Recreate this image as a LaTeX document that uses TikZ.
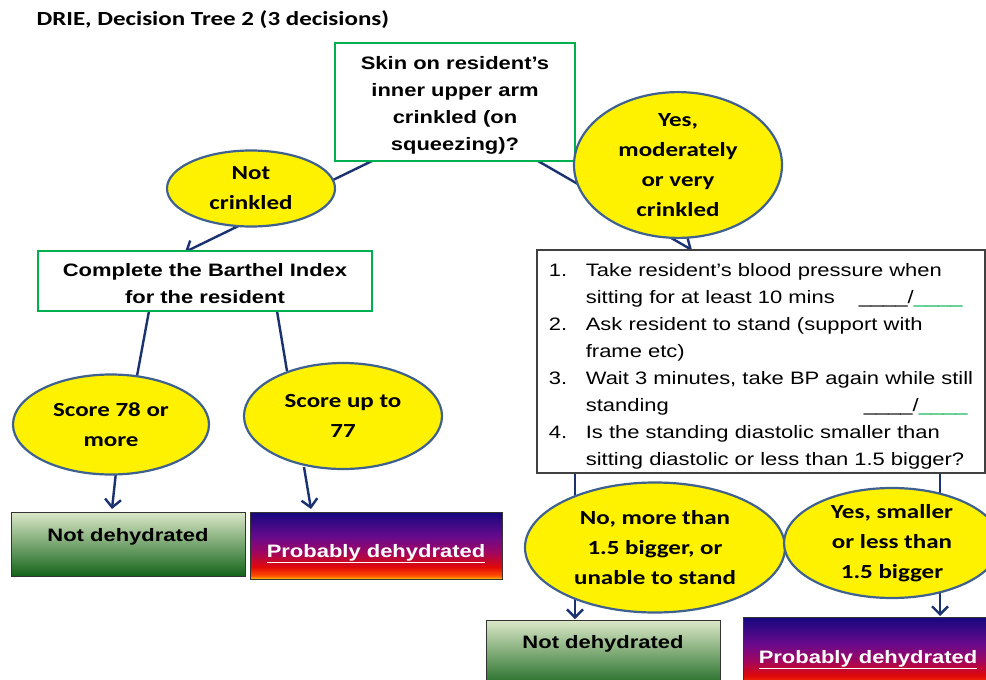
\documentclass[tikz,border=0pt]{standalone}
\usepackage{fontspec}
\setmainfont{Liberation Sans}[FakeStretch=1.22]
\newfontfamily\calfont{Carlito}[FakeStretch=1.25]
\usetikzlibrary{shapes.geometric,arrows.meta,backgrounds}
\definecolor{conn}{HTML}{1A3270}
\definecolor{ellline}{HTML}{3F6190}
\definecolor{boxgreen}{HTML}{00B050}
\definecolor{blankgreen}{HTML}{00B050}
\definecolor{gA}{HTML}{DCE8C8}
\definecolor{gB}{HTML}{86A860}
\definecolor{gC}{HTML}{14641A}
\definecolor{ppY}{HTML}{FFC000}
\definecolor{ppO}{HTML}{FF5000}
\definecolor{ppR}{HTML}{E00808}
\definecolor{ppM}{HTML}{A00660}
\definecolor{ppP}{HTML}{6A0A8C}
\definecolor{ppB}{HTML}{14087E}
\pgfdeclareverticalshading{probshade}{100bp}{color(0bp)=(ppY); color(25bp)=(ppY); color(27.5bp)=(ppO); color(34bp)=(ppR); color(45bp)=(ppM); color(56bp)=(ppP); color(75bp)=(ppB); color(100bp)=(ppB)}
\newcommand{\dropby}[2]{\raisebox{-#1}[\height][\depth]{#2}}
\tikzset{
  qbox/.style={draw=boxgreen, line width=1.3pt, fill=white, align=center, inner sep=0pt,
    font=\bfseries\fontsize{18}{27}\selectfont},
  listbox/.style={draw=black!75, line width=1.1pt, fill=white, inner sep=0pt,
    font=\fontsize{18}{27}\selectfont},
  ell/.style={ellipse, draw=ellline, line width=2.2pt, fill=yellow, inner sep=0pt, align=center,
    font=\calfont\bfseries\fontsize{20}{30}\selectfont},
  ndbox/.style={draw=black!80, line width=1pt, top color=gA, middle color=gB, bottom color=gC,
    inner sep=0pt, font=\bfseries\fontsize{18}{27}\selectfont},
  pdbox/.style={draw=black!80, line width=1pt, shading=probshade, text=white,
    inner sep=0pt, font=\bfseries\fontsize{18}{27}\selectfont},
  arr/.style={draw=conn, line width=2.4pt, -{Straight Barb[length=8pt,width=16pt,line width=2.4pt]}},
  ln/.style={draw=conn, line width=2.4pt}
}
\begin{document}
\begin{tikzpicture}[x=1pt,y=-1pt]
\useasboundingbox (0,0) rectangle (986,680);

\node[anchor=west, font=\calfont\bfseries\fontsize{20}{24}\selectfont] (title) at (33,20) {DRIE, Decision Tree 2 (3 decisions)};

\node[qbox, minimum width=240pt, minimum height=118pt] (q) at (455,102)
  {\dropby{3pt}{\begin{tabular}{@{}c@{}}Skin on resident’s\\inner upper arm\\crinkled (on\\squeezing)?\end{tabular}}};

\node[qbox, minimum width=334pt, minimum height=60pt] (barthel) at (205,281)
  {\dropby{3.5pt}{\begin{tabular}{@{}c@{}}Complete the Barthel Index\\for the resident\end{tabular}}};

\node[listbox, minimum width=448pt, minimum height=223pt] (list) at (761,361.5)
  {\dropby{4pt}{\begin{tabular}{@{}l@{}l@{}}
  \makebox[37pt][l]{1.} & Take resident’s blood pressure when\\
   & \makebox[273pt][l]{sitting for at least 10 mins}\_\_\_\_/\textcolor{blankgreen}{\_\_\_\_}\\
  \makebox[37pt][l]{2.} & Ask resident to stand (support with\\
   & frame etc)\\
  \makebox[37pt][l]{3.} & Wait 3 minutes, take BP again while still\\
   & \makebox[278pt][l]{standing}\_\_\_\_/\textcolor{blankgreen}{\_\_\_\_}\\
  \makebox[37pt][l]{4.} & Is the standing diastolic smaller than\\
   & sitting diastolic or less than 1.5 bigger?
  \end{tabular}}};

\node[ell, minimum width=168pt, minimum height=76pt] (nc) at (251,188.5) {Not\\crinkled};
\node[ell, minimum width=208pt, minimum height=128pt] (yes) at (678,165) {Yes,\\moderately\\or very\\crinkled};
\node[ell, minimum width=196pt, minimum height=100pt] (s78) at (111,424.5) {Score 78 or\\more};
\node[ell, minimum width=198pt, minimum height=106pt] (s77) at (343,416) {Score up to\\77};
\node[ell, minimum width=260pt, minimum height=130pt] (no) at (655,547.5) {No, more than\\1.5 bigger, or\\unable to stand};
\node[ell, minimum width=216pt, minimum height=110pt] (ys) at (892,543) {Yes, smaller\\or less than\\1.5 bigger};

\node[ndbox, minimum width=234pt, minimum height=64pt] (nd1) at (128,544) {\raisebox{2.5pt}[0pt][0pt]{Not dehydrated}};
\node[pdbox, minimum width=252pt, minimum height=67pt] (pd1) at (376,545.5) {\raisebox{-12pt}[0pt][0pt]{\underline{Probably dehydrated}}};
\node[ndbox, minimum width=234pt, minimum height=70pt] (nd2) at (603,655) {\raisebox{6.5pt}[0pt][0pt]{Not dehydrated}};
\node[pdbox, minimum width=250pt, minimum height=72pt] (pd2) at (868,653) {\raisebox{-10.5pt}[0pt][0pt]{\underline{Probably dehydrated}}};

\coordinate (qL) at (372,161);
\coordinate (bT) at (185,252);
\coordinate (qR) at (538,161);
\coordinate (lT) at (692,250);
\coordinate (bL) at (149,311);
\coordinate (bR) at (277,311);
\coordinate (s78t) at (137,376);
\coordinate (s77t) at (287,371);
\coordinate (s78b) at (116,472);
\coordinate (nd1t) at (112,509);
\coordinate (s77b) at (304,467);
\coordinate (pd1t) at (311,509);
\coordinate (lL) at (575,473);
\coordinate (nd2t) at (575,619);
\coordinate (lR) at (940,473);
\coordinate (pd2t) at (940,616);

\begin{scope}[on background layer]
\fill[white] (0,0) rectangle (986,680);
\draw[arr] (qL) -- (bT);
\draw[arr] (qR) -- (lT);
\draw[ln] (bL) -- (s78t);
\draw[ln] (bR) -- (s77t);
\draw[arr] (s78b) -- (nd1t);
\draw[arr] (s77b) -- (pd1t);
\draw[arr] (lL) -- (nd2t);
\draw[arr] (lR) -- (pd2t);
\end{scope}
\end{tikzpicture}
\end{document}
